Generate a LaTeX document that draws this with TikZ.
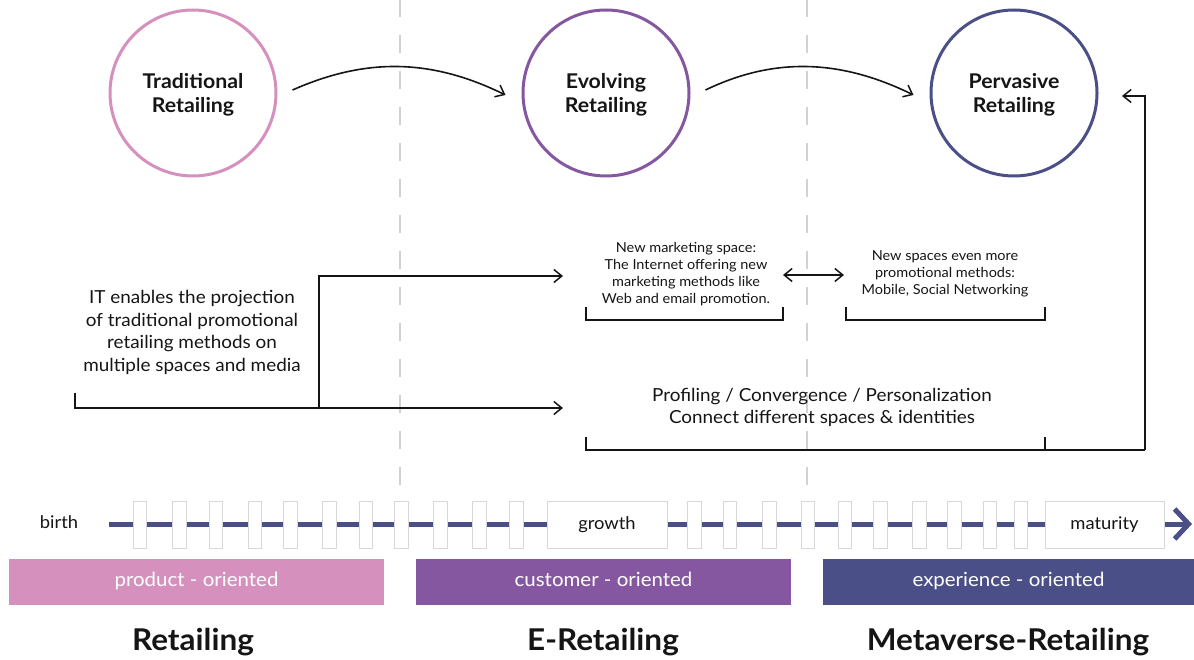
\documentclass[tikz,border=0pt]{standalone}
\usepackage{fontspec}
\setmainfont{Lato}[FakeStretch=1.05]
\usetikzlibrary{arrows.meta}
\definecolor{cpink}{HTML}{D590BE}
\definecolor{cpurple}{HTML}{8557A0}
\definecolor{cnavy}{HTML}{4B4F88}
\definecolor{cgrid}{HTML}{D2D2D2}
\definecolor{cbox}{HTML}{D8D8D8}
\definecolor{ctext}{HTML}{151515}
\begin{document}
\begin{tikzpicture}[x=1pt,y=-1pt,
  phase/.style={circle, minimum size=166pt, line width=3pt, fill=white, inner sep=0pt},
  phasetext/.style={font=\fontsize{20.3}{24}\selectfont\bfseries, align=center, text=ctext, inner sep=0pt, yshift=-2pt},
  barb/.style={-{Straight Barb[length=8pt,width=13pt,line width=1.5pt]}},
  flow/.style={line width=1.6pt, ctext, barb},
  bracket/.style={line width=1.6pt, ctext},
  grid/.style={cgrid, line width=2.5pt, dash pattern=on 18pt off 18pt, dash phase=1pt},
  midtext/.style={font=\fontsize{18}{22.7}\selectfont, align=center, text=ctext, inner sep=0pt},
  smalltext/.style={font=\fontsize{13.8}{17}\selectfont, align=center, text=ctext, inner sep=0pt},
  tickbox/.style={draw=cbox, line width=0.8pt, fill=white},
  tltext/.style={font=\fontsize{17.5}{20}\selectfont, text=ctext},
  bar/.style={minimum height=46pt, inner sep=0pt, text=white, font=\fontsize{19.5}{22}\selectfont,
    text height=0.9em, text depth=0.1em},
  title/.style={font=\fontsize{30}{32}\selectfont\bfseries, text=ctext, inner sep=0pt}
]
\useasboundingbox (0,0) rectangle (1194,660);

% vertical dashed separators
\coordinate (g1a) at (400,0); \coordinate (g1b) at (400,511);
\coordinate (g2a) at (807,0); \coordinate (g2b) at (807,511);
\draw[grid] (g1a) -- (g1b);
\draw[grid] (g2a) -- (g2b);

% phase circles
\node[phase, draw=cpink, label={[phasetext]center:{Traditional\\Retailing}}] (trad) at (193,93) {};
\node[phase, draw=cpurple, label={[phasetext]center:{Evolving\\Retailing}}] (evol) at (606,93) {};
\node[phase, draw=cnavy, label={[phasetext]center:{Pervasive\\Retailing}}] (perv) at (1014,93) {};

\draw[flow] ([xshift=15pt,yshift=3pt]trad.east) .. controls (365,58) and (430,58) .. ([xshift=-16pt,yshift=-2pt]evol.west);
\draw[flow] ([xshift=15pt,yshift=3pt]evol.east) .. controls (772,58) and (838,58) .. ([xshift=-16pt,yshift=-2pt]perv.west);

% middle texts
\node[midtext] (itx) at (192,332.5) {IT enables the projection\\of traditional promotional\\retailing methods on\\multiple spaces and media};
\node[smalltext] (t1) at (686,274) {New marketing space:\\The Internet offering new\\marketing methods like\\Web and email promotion.};
\node[smalltext] (t2) at (945,274) {New spaces even more\\promotional methods:\\Mobile, Social Networking};
\node[midtext] (t3) at (822,407.5) {Profiling / Convergence / Personalization\\Connect different spaces \& identities};

% flow lines
\coordinate (s0) at (75,393);
\coordinate (s1) at (75,408);
\coordinate (split) at (319,408);
\coordinate (up) at (319,276);
\coordinate (e1) at (563,276);
\coordinate (e2) at (563,408);
\draw[flow] (s0) -- (s1) -- (e2);
\draw[flow] (split) -- (up) -- (e1);

% brackets
\coordinate (b1a) at (586,307); \coordinate (b1b) at (586,320);
\coordinate (b1c) at (783,320); \coordinate (b1d) at (783,307);
\draw[bracket] (b1a) -- (b1b) -- (b1c) -- (b1d);
\coordinate (b2a) at (846,307); \coordinate (b2b) at (846,320);
\coordinate (b2c) at (1045,320); \coordinate (b2d) at (1045,307);
\draw[bracket] (b2a) -- (b2b) -- (b2c) -- (b2d);
\coordinate (d1) at (783,275); \coordinate (d2) at (844,275);
\draw[line width=1.6pt, ctext, {Straight Barb[length=8pt,width=13pt,line width=1.5pt]}-{Straight Barb[length=8pt,width=13pt,line width=1.5pt]}] (d1) -- (d2);

\coordinate (b3a) at (586,437); \coordinate (b3b) at (586,450);
\coordinate (b3m) at (1045,437); \coordinate (b3n) at (1045,450);
\coordinate (b3c) at (1145,450); \coordinate (b3d) at (1145,96);
\coordinate (b3e) at (1122,96);
\draw[bracket] (b3a) -- (b3b) -- (b3c);
\draw[bracket] (b3m) -- (b3n);
\draw[flow] (b3c) -- (b3d) -- (b3e);

% timeline
\node[tltext, inner sep=0pt] (birth) at (59,522) {birth};
\coordinate (tl0) at (109,524);
\coordinate (tl1) at (1192,524);
\draw[cnavy, line width=5pt, -{Straight Barb[length=14pt,width=30pt,line width=5pt]}] (tl0) -- (tl1);
\foreach \a/\b in {133/146,172/186,209/222,248/261,283/297,322/336,359/372,394/408,433/447,472/486,509/523,687/701,723/736,762/776,801/814,838/851,873/887,912/926,947/961,983/996,1014/1027}
  \draw[tickbox] (\a,501) rectangle (\b,548);
\node[tickbox, tltext, minimum width=120pt, minimum height=47pt, inner sep=0pt] (growth) at (607,524.5) {growth};
\node[tickbox, tltext, minimum width=119pt, minimum height=47pt, inner sep=0pt] (maturity) at (1104.5,524.5) {maturity};

% bars
\node[bar, fill=cpink, minimum width=375pt] (bar1) at (196.5,582) {product - oriented};
\node[bar, fill=cpurple, minimum width=375pt] (bar2) at (603.5,582) {customer - oriented};
\node[bar, fill=cnavy, minimum width=371pt] (bar3) at (1008.5,582) {experience - oriented};

% titles
\node[title] (ti1) at (193,642) {Retailing};
\node[title] (ti2) at (603,642) {E-Retailing};
\node[title] (ti3) at (1008,642) {Metaverse-Retailing};
\end{tikzpicture}
\end{document}
